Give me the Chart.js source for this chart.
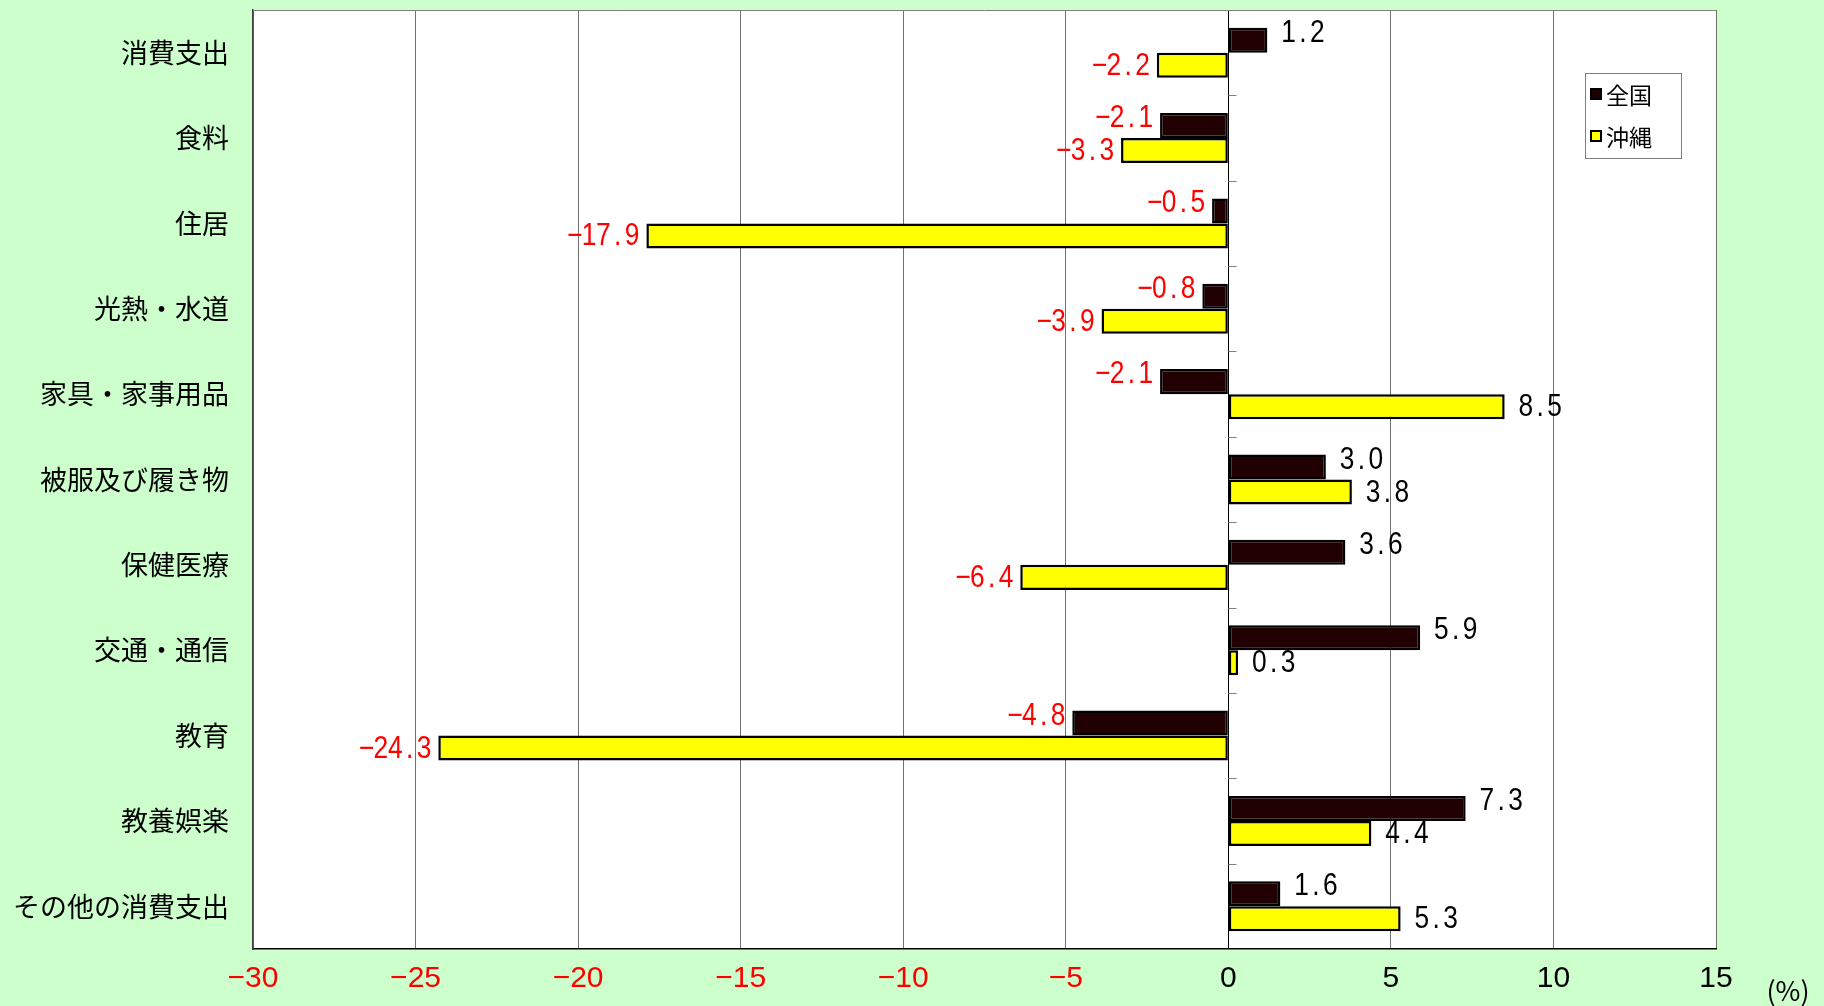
<!DOCTYPE html>
<html>
<head>
<meta charset="utf-8">
<script src="https://cdn.jsdelivr.net/npm/chart.js@4/dist/chart.umd.min.js"></script>
<style>
  html, body { margin: 0; padding: 0; background: #ccffcc; }
  #wrap { width: 1824px; height: 1006px; position: relative; }
</style>
</head>
<body>
<div id="wrap"><canvas id="chart"></canvas></div>
<script>
const categories = ["消費支出", "食料", "住居", "光熱・水道", "家具・家事用品", "被服及び履き物",
  "保健医療", "交通・通信", "教育", "教養娯楽", "その他の消費支出"];
const zenkoku = [1.2, -2.1, -0.5, -0.8, -2.1, 3.0, 3.6, 5.9, -4.8, 7.3, 1.6];
const okinawa = [-2.2, -3.3, -17.9, -3.9, 8.5, 3.8, -6.4, 0.3, -24.3, 4.4, 5.3];
const seriesNames = ["全国", "沖縄"];
const xMin = -30, xMax = 15, xStep = 5;

const CJK = '"Noto Sans CJK JP", sans-serif';
const NARROW = '"Liberation Sans Narrow", "Liberation Sans", sans-serif';

// draws text in fixed-width cells, like a half-width gothic font
function drawMono(ctx, text, x, y, align, cell) {
  const w = text.length * cell;
  let start = align === "right" ? x - w : x;
  ctx.textAlign = "center";
  for (let i = 0; i < text.length; i++) {
    ctx.save();
    ctx.translate(start + cell * i + cell / 2, y);
    ctx.scale(0.85, 1);
    ctx.fillText(text[i], 0, 0);
    ctx.restore();
  }
}

const decor = {
  id: "decor",
  beforeDraw(chart) {
    const { ctx, chartArea: a } = chart;
    ctx.save();
    ctx.fillStyle = "#ccffcc";
    ctx.fillRect(0, 0, chart.width, chart.height);
    ctx.fillStyle = "#ffffff";
    ctx.fillRect(a.left, a.top, a.right - a.left, a.bottom - a.top);
    ctx.restore();
  },
  beforeDatasetsDraw(chart) {
    const { ctx, chartArea: a, scales } = chart;
    ctx.save();
    ctx.strokeStyle = "#808080";
    ctx.lineWidth = 1;
    ctx.beginPath();
    ctx.moveTo(a.left, a.top + 0.5);
    ctx.lineTo(a.right, a.top + 0.5);
    // small category ticks on the zero line
    const x0 = Math.round(scales.x.getPixelForValue(0)) + 0.5;
    for (let i = 1; i < categories.length; i++) {
      const y = Math.round(scales.y.getPixelForValue(i - 0.5)) + 0.5;
      ctx.moveTo(x0, y);
      ctx.lineTo(x0 + 8, y);
    }
    ctx.stroke();
    ctx.restore();
  },
  afterDatasetsDraw(chart) {
    const { ctx } = chart;
    ctx.save();
    ctx.font = "31px " + NARROW;
    ctx.textBaseline = "middle";
    chart.data.datasets.forEach((ds, di) => {
      const meta = chart.getDatasetMeta(di);
      meta.data.forEach((bar, i) => {
        const v = ds.data[i];
        const txt = (v < 0 ? "−" : "") + Math.abs(v).toFixed(1);
        const y = bar.y + (di === 0 ? -7 : 1);
        if (v < 0) {
          ctx.fillStyle = "#ff0000";
          drawMono(ctx, txt, bar.x - 7, y, "right", 14.4);
        } else {
          ctx.fillStyle = "#000000";
          drawMono(ctx, txt, bar.x + 14, y, "left", 14.4);
        }
      });
    });

    // legend
    const lx = 1585, ly = 73, lw = 96, lh = 85;
    ctx.fillStyle = "#ffffff";
    ctx.fillRect(lx, ly, lw, lh);
    ctx.strokeStyle = "#808080";
    ctx.lineWidth = 1;
    ctx.strokeRect(lx + 0.5, ly + 0.5, lw, lh);
    chart.data.datasets.forEach((ds, di) => {
      const cy = ly + 21 + di * 42;
      ctx.fillStyle = ds.backgroundColor;
      ctx.fillRect(lx + 6, cy - 5, 10, 10);
      ctx.strokeStyle = "#000000";
      ctx.lineWidth = 2;
      ctx.strokeRect(lx + 6, cy - 5, 10, 10);
      ctx.fillStyle = "#000000";
      ctx.font = "23px " + CJK;
      ctx.textAlign = "left";
      ctx.textBaseline = "middle";
      ctx.fillText(ds.label, lx + 21, cy + 1);
    });

    // unit
    ctx.fillStyle = "#000000";
    ctx.font = "27px " + CJK;
    ctx.textAlign = "center";
    ctx.textBaseline = "middle";
    ctx.fillText("(%)", 1788, 991);
    ctx.restore();
  }
};

new Chart(document.getElementById("chart").getContext("2d"), {
  type: "bar",
  data: {
    labels: categories,
    datasets: [
      { label: seriesNames[0], data: zenkoku, backgroundColor: "#200000",
        borderColor: "#000000", borderWidth: 2.5, borderSkipped: false },
      { label: seriesNames[1], data: okinawa, backgroundColor: "#ffff00",
        borderColor: "#000000", borderWidth: 2.5, borderSkipped: false }
    ]
  },
  options: {
    indexAxis: "y",
    animation: false,
    responsive: true,
    maintainAspectRatio: false,
    categoryPercentage: 0.586,
    barPercentage: 1.0,
    layout: { padding: { top: 10, right: 108, left: 0, bottom: 0 } },
    plugins: { legend: { display: false }, tooltip: { enabled: false } },
    scales: {
      x: {
        min: xMin,
        max: xMax,
        afterFit: s => { s.height = 57; s.paddingLeft = 0; s.paddingRight = 0; },
        ticks: {
          stepSize: xStep,
          padding: 12,
          font: { family: NARROW, size: 30 },
          color: c => c.tick.value < 0 ? "#ff0000" : "#000000",
          callback: v => (v < 0 ? "−" : "") + Math.abs(v)
        },
        grid: {
          drawTicks: false,
          color: c => c.tick && c.tick.value === 0 ? "#000000" : "#707070",
          lineWidth: 1
        },
        border: { display: true, color: "#000000", width: 1.5 }
      },
      y: {
        afterFit: s => { s.width = 253; s.paddingTop = 0; s.paddingBottom = 0; },
        ticks: {
          padding: 24,
          font: { family: CJK, size: 27 },
          color: "#000000"
        },
        grid: { display: false, drawTicks: false },
        border: { display: true, color: "#404040", width: 1.5 }
      }
    }
  },
  plugins: [decor]
});
</script>
</body>
</html>
